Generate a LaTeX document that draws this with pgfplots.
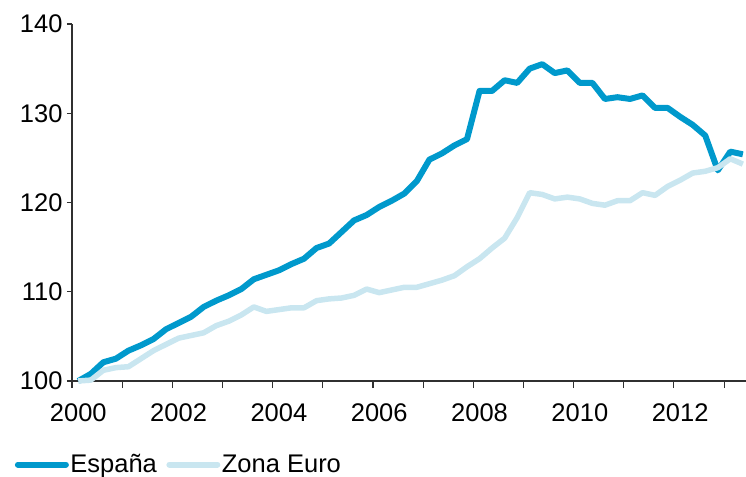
\documentclass[border=0pt]{standalone}
\usepackage{pgfplots}
\pgfplotsset{compat=1.18}
\usepackage{pgfplotstable}
\usepackage{fontspec}
\setmainfont{Liberation Sans}
\definecolor{espana}{HTML}{0099CC}
\definecolor{euro}{HTML}{C9E6F0}
\definecolor{axisgray}{HTML}{303030}
\pgfplotstableread{
i esp eur
0 100.0 100.0
1 100.8 100.1
2 102.1 101.2
3 102.5 101.5
4 103.4 101.6
5 104.0 102.5
6 104.7 103.4
7 105.8 104.1
8 106.5 104.8
9 107.2 105.1
10 108.3 105.4
11 109.0 106.2
12 109.6 106.7
13 110.3 107.4
14 111.4 108.3
15 111.9 107.8
16 112.4 108.0
17 113.1 108.2
18 113.7 108.2
19 114.9 109.0
20 115.4 109.2
21 116.7 109.3
22 118.0 109.6
23 118.6 110.3
24 119.5 109.9
25 120.2 110.2
26 121.0 110.5
27 122.4 110.5
28 124.8 110.9
29 125.5 111.3
30 126.4 111.8
31 127.1 112.8
32 132.5 113.7
33 132.5 114.9
34 133.7 116.0
35 133.4 118.3
36 135.0 121.1
37 135.5 120.9
38 134.5 120.4
39 134.8 120.6
40 133.4 120.4
41 133.4 119.9
42 131.6 119.7
43 131.8 120.2
44 131.6 120.2
45 132.0 121.1
46 130.6 120.8
47 130.6 121.8
48 129.6 122.5
49 128.7 123.3
50 127.5 123.5
51 123.6 123.9
52 125.7 124.9
53 125.4 124.3
}\datatable
\begin{document}
\begin{tikzpicture}
\begin{axis}[
  scale only axis,
  width=674bp, height=357bp,
  xmin=-0.5, xmax=53.25,
  ymin=100, ymax=140,
  axis x line*=bottom, axis y line*=left,
  axis line style={axisgray, line width=1.3bp, -},
  xtick={0,8,16,24,32,40,48},
  xticklabels={2000,2002,2004,2006,2008,2010,2012},
  minor xtick={-0.5,3.5,...,52},
  major x tick style={draw=none},
  minor x tick style={axisgray, line width=1.1bp},
  minor tick length=7bp,
  ytick={100,110,120,130,140},
  major tick length=5bp,
  major y tick style={axisgray, line width=1.1bp},
  tick align=outside,
  tick label style={font=\fontsize{25.5bp}{30bp}\selectfont, text=black},
  /pgf/number format/assume math mode=true,
  /pgf/number format/1000 sep={},
  xticklabel style={yshift=-14bp},
  yticklabel style={xshift=-1bp},
  legend columns=2,
  legend style={draw=none, fill=none, at={(-0.085,-0.234)}, anchor=west,
    font=\fontsize{25.5bp}{30bp}\selectfont, inner sep=0pt,
    nodes={inner xsep=1.5bp},
    /tikz/every even column/.append style={column sep=8bp}},
  legend image code/.code={\draw[#1, line cap=round, line width=6bp] (0bp,0bp) -- (48bp,0bp);},
  clip=false,
]
\addplot[espana, line width=6bp, line join=round] table[x=i, y=esp] {\datatable};
\addlegendentry{España}
\addplot[euro, line width=5.5bp, line join=round] table[x=i, y=eur] {\datatable};
\addlegendentry{Zona Euro}
\end{axis}
\pgfresetboundingbox
\path ([xshift=-72bp,yshift=-96bp]current axis.south west) rectangle ([yshift=24bp]current axis.north east);
\end{tikzpicture}
\end{document}
